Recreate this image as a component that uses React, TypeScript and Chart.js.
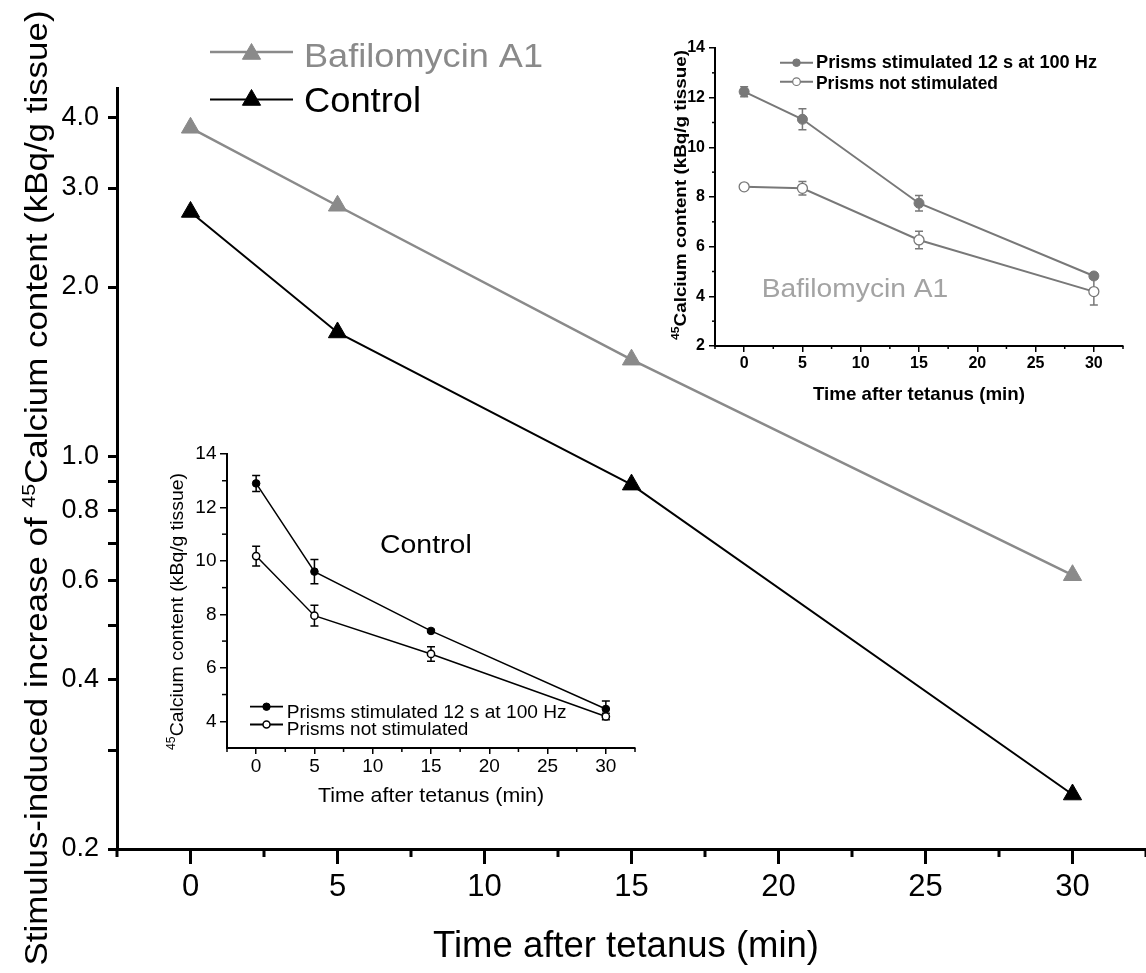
import React, { useEffect, useRef } from 'react';
import { Chart, registerables } from 'chart.js';

Chart.register(...registerables);

const FONT = "'Liberation Sans', Arial, Helvetica, sans-serif";
Chart.defaults.font.family = FONT;

const W = 1146;
const H = 973;

// ---------- data ----------
const timePoints = [0, 5, 15, 30];
const mainSeriesLabels = ['Bafilomycin A1', 'Control'];
const bafilomycinIncrease = [3.84, 2.79, 1.485, 0.614];
const controlIncrease = [2.72, 1.66, 0.89, 0.25];
const mainYTickValues = [0.2, 0.3, 0.4, 0.5, 0.6, 0.7, 0.8, 0.9, 1, 2, 3, 4];
const mainYTickLabels = ['0.2', '', '0.4', '', '0.6', '', '0.8', '', '1.0', '2.0', '3.0', '4.0'];
const timeMajorTicks = [0, 5, 10, 15, 20, 25, 30];
const timeMinorTicks = [-2.5, 2.5, 7.5, 12.5, 17.5, 22.5, 27.5, 32.5];

const insetSeriesLabels = ['Prisms stimulated 12 s at 100 Hz', 'Prisms not stimulated'];

const bafStimulated = [12.24, 11.13, 7.75, 4.82];
const bafStimulatedErr = [0.2, 0.42, 0.31, 0.12];
const bafNotStimulated = [8.41, 8.35, 6.27, 4.19];
const bafNotStimulatedErr = [0.1, 0.27, 0.35, 0.54];
const bafYMajorTicks = [2, 4, 6, 8, 10, 12, 14];
const bafYMinorTicks = [3, 5, 7, 9, 11, 13];

const ctlStimulated = [12.9, 9.6, 7.38, 4.46];
const ctlStimulatedErr = [0.3, 0.45, 0.05, 0.3];
const ctlNotStimulated = [10.18, 7.95, 6.52, 4.18];
const ctlNotStimulatedErr = [0.37, 0.39, 0.27, 0.12];
const ctlYMajorTicks = [4, 6, 8, 10, 12, 14];
const ctlYMinorTicks = [5, 7, 9, 11, 13];

// ---------- styles ----------
const MAIN_GRAY = '#8a8a8a';
const INSET_GRAY = '#787878';
const LABEL_GRAY = '#a3a3a3';

type Part = { t: string; sup?: boolean };
type TextSpec = {
  parts: Part[]; x: number; y: number; size: number; bold?: boolean; color?: string;
  align?: 'left' | 'center'; rotate?: boolean; width?: number;
};
type KeySpec = {
  x1: number; x2: number; y: number; my: number; color: string; lineWidth: number;
  marker: 'triangle' | 'circle'; r: number; filled: boolean; mlw: number;
};

function drawText(ctx: CanvasRenderingContext2D, s: TextSpec) {
  const fontOf = (p: Part) =>
    `${s.bold ? 'bold ' : ''}${p.sup ? Math.round(s.size * 0.62) : s.size}px ${FONT}`;
  ctx.save();
  ctx.translate(s.x, s.y);
  if (s.rotate) ctx.rotate(-Math.PI / 2);
  const widths = s.parts.map((p) => {
    ctx.font = fontOf(p);
    return ctx.measureText(p.t).width;
  });
  const total = widths.reduce((a, b) => a + b, 0);
  if (s.width) ctx.scale(s.width / total, 1);
  let cx = s.align === 'center' ? -total / 2 : 0;
  ctx.fillStyle = s.color || '#000';
  ctx.textAlign = 'left';
  ctx.textBaseline = 'alphabetic';
  s.parts.forEach((p, i) => {
    ctx.font = fontOf(p);
    ctx.fillText(p.t, cx, p.sup ? -s.size * 0.4 : 0);
    cx += widths[i];
  });
  ctx.restore();
}

function drawMarker(ctx: CanvasRenderingContext2D, style: string, x: number, y: number, r: number,
  fill: string, stroke: string, lw: number) {
  ctx.beginPath();
  if (style === 'triangle') {
    for (let k = 0; k < 3; k++) {
      const a = (k * 2 * Math.PI) / 3;
      const px = x + Math.sin(a) * r;
      const py = y - Math.cos(a) * r;
      if (k) ctx.lineTo(px, py); else ctx.moveTo(px, py);
    }
    ctx.closePath();
  } else {
    ctx.arc(x, y, r, 0, Math.PI * 2);
  }
  ctx.fillStyle = fill;
  ctx.fill();
  ctx.lineWidth = lw;
  ctx.strokeStyle = stroke;
  ctx.stroke();
}

function overlayPlugin(texts: TextSpec[], keys: KeySpec[]) {
  return {
    id: 'overlayTexts',
    afterDraw(chart: any) {
      const ctx: CanvasRenderingContext2D = chart.ctx;
      keys.forEach((k) => {
        ctx.save();
        ctx.strokeStyle = k.color;
        ctx.lineWidth = k.lineWidth;
        ctx.beginPath();
        ctx.moveTo(k.x1, k.y);
        ctx.lineTo(k.x2, k.y);
        ctx.stroke();
        drawMarker(ctx, k.marker, (k.x1 + k.x2) / 2, k.my, k.r, k.filled ? k.color : '#fff', k.color, k.mlw);
        ctx.restore();
      });
      texts.forEach((t) => drawText(ctx, t));
    },
  };
}

const minorTickPlugin = {
  id: 'minorTicks',
  afterDraw(chart: any, _args: any, opts: any) {
    const ctx: CanvasRenderingContext2D = chart.ctx;
    const xs = chart.scales.x;
    const ys = chart.scales.y;
    ctx.save();
    ctx.strokeStyle = '#000';
    ctx.lineWidth = opts.width || 1;
    (opts.x || []).forEach((v: number) => {
      const px = xs.getPixelForValue(v);
      ctx.beginPath();
      ctx.moveTo(px, xs.top);
      ctx.lineTo(px, xs.top + opts.xLen);
      ctx.stroke();
    });
    (opts.y || []).forEach((v: number) => {
      const py = ys.getPixelForValue(v);
      ctx.beginPath();
      ctx.moveTo(ys.right, py);
      ctx.lineTo(ys.right - opts.yLen, py);
      ctx.stroke();
    });
    ctx.restore();
  },
};

const errorBarPlugin = {
  id: 'errorBars',
  beforeDatasetsDraw(chart: any, _args: any, opts: any) {
    const ctx: CanvasRenderingContext2D = chart.ctx;
    const ys = chart.scales.y;
    chart.data.datasets.forEach((ds: any, i: number) => {
      if (!ds.errorBars) return;
      const meta = chart.getDatasetMeta(i);
      ctx.save();
      ctx.strokeStyle = ds.borderColor;
      ctx.lineWidth = opts.lineWidth || 1.5;
      meta.data.forEach((pt: any, j: number) => {
        const v = ds.data[j].y;
        const e = ds.errorBars[j];
        const top = ys.getPixelForValue(v + e);
        const bot = ys.getPixelForValue(v - e);
        const cw = (opts.capWidth || 8) / 2;
        ctx.beginPath();
        ctx.moveTo(pt.x, top);
        ctx.lineTo(pt.x, bot);
        ctx.moveTo(pt.x - cw, top);
        ctx.lineTo(pt.x + cw, top);
        ctx.moveTo(pt.x - cw, bot);
        ctx.lineTo(pt.x + cw, bot);
        ctx.stroke();
      });
      ctx.restore();
    });
  },
};

function series(label: string, values: number[], errs: number[] | null, color: string, filled: boolean,
  radius: number, lineWidth: number, style: string, mlw: number) {
  return {
    label,
    data: timePoints.map((t, i) => ({ x: t, y: values[i] })),
    errorBars: errs,
    borderColor: color,
    backgroundColor: color,
    borderWidth: lineWidth,
    pointStyle: style,
    pointRadius: radius,
    pointBackgroundColor: filled ? color : '#ffffff',
    pointBorderColor: color,
    pointBorderWidth: mlw,
    tension: 0,
    fill: false,
    showLine: true,
    clip: false,
  };
}

function axisX(area: { height: number }, tickLen: number, width: number, borderW: number,
  fontSize: number, bold: boolean, padding: number) {
  return {
    type: 'linear',
    min: -2.5,
    max: 32.5,
    afterFit: (s: any) => {
      s.height = area.height;
      s.paddingLeft = 0;
      s.paddingRight = 0;
    },
    afterBuildTicks: (s: any) => { s.ticks = timeMajorTicks.map((v) => ({ value: v })); },
    grid: {
      display: true, drawOnChartArea: false, drawTicks: true, tickLength: tickLen,
      lineWidth: width, tickWidth: width, color: '#000', tickColor: '#000',
    },
    border: { display: true, color: '#000', width: borderW },
    ticks: {
      color: '#000', autoSkip: false, maxRotation: 0, padding,
      font: { size: fontSize, weight: bold ? 'bold' : 'normal' },
      callback: (v: any) => String(v),
    },
  };
}

function insetAxisY(width: number, min: number, max: number, major: number[], tickLen: number,
  fontSize: number, bold: boolean, padding: number, borderW: number) {
  return {
    type: 'linear',
    min,
    max,
    afterFit: (s: any) => {
      s.width = width;
      s.paddingTop = 0;
      s.paddingBottom = 0;
    },
    afterBuildTicks: (s: any) => { s.ticks = major.map((v) => ({ value: v })); },
    grid: {
      display: true, drawOnChartArea: false, drawTicks: true, tickLength: tickLen,
      lineWidth: 1.5, tickWidth: 1.5, color: '#000', tickColor: '#000',
    },
    border: { display: true, color: '#000', width: borderW },
    ticks: {
      color: '#000', autoSkip: false, padding,
      font: { size: fontSize, weight: bold ? 'bold' : 'normal' },
      callback: (v: any) => String(v),
    },
  };
}

function mainConfig(): any {
  const texts: TextSpec[] = [
    {
      parts: [{ t: 'Stimulus-induced increase of ' }, { t: '45', sup: true }, { t: 'Calcium content (kBq/g tissue)' }],
      x: 47, y: 488, size: 31, rotate: true, width: 955, align: 'center',
    },
    { parts: [{ t: 'Time after tetanus (min)' }], x: 626, y: 957, size: 36, width: 386, align: 'center' },
    { parts: [{ t: mainSeriesLabels[0] }], x: 304, y: 66.7, size: 34, width: 239, color: MAIN_GRAY },
    { parts: [{ t: mainSeriesLabels[1] }], x: 304, y: 111.7, size: 35, width: 117, color: '#000' },
  ];
  const keys: KeySpec[] = [
    { x1: 210, x2: 293, y: 52, my: 54, color: MAIN_GRAY, lineWidth: 2.5, marker: 'triangle', r: 10.5, filled: true, mlw: 1 },
    { x1: 210, x2: 293, y: 99.5, my: 100, color: '#000', lineWidth: 2, marker: 'triangle', r: 10.5, filled: true, mlw: 1 },
  ];
  return {
    type: 'line',
    data: {
      datasets: [
        series(mainSeriesLabels[0], bafilomycinIncrease, null, MAIN_GRAY, true, 10.5, 2.5, 'triangle', 1),
        series(mainSeriesLabels[1], controlIncrease, null, '#000', true, 10.5, 2, 'triangle', 1),
      ],
    },
    options: {
      responsive: false,
      animation: false,
      events: [],
      layout: { autoPadding: false, padding: { top: 88, left: 0, right: 0, bottom: 0 } },
      plugins: {
        legend: { display: false },
        tooltip: { enabled: false },
        minorTicks: { x: timeMinorTicks, xLen: 8, y: [], yLen: 0, width: 3 },
      },
      scales: {
        x: axisX({ height: H - 849 }, 15, 3, 3, 31, false, 5),
        y: {
          type: 'logarithmic',
          min: 0.2,
          max: 4.52,
          afterFit: (s: any) => {
            s.width = 117;
            s.paddingTop = 0;
            s.paddingBottom = 0;
          },
          afterBuildTicks: (s: any) => { s.ticks = mainYTickValues.map((v) => ({ value: v })); },
          grid: {
            display: true, drawOnChartArea: false, drawTicks: true, tickLength: 9,
            lineWidth: 3, tickWidth: 3, color: '#000', tickColor: '#000',
          },
          border: { display: true, color: '#000', width: 3 },
          ticks: {
            color: '#000', autoSkip: false, padding: 9, font: { size: 27 },
            callback: (v: any) => {
              const i = mainYTickValues.indexOf(v);
              return i >= 0 ? mainYTickLabels[i] : '';
            },
          },
        },
      },
    },
    plugins: [minorTickPlugin, overlayPlugin(texts, keys)],
  };
}

function bafConfig(): any {
  const texts: TextSpec[] = [
    {
      parts: [{ t: '45', sup: true }, { t: 'Calcium content (kBq/g tissue)' }],
      x: 686, y: 195, size: 17, bold: true, rotate: true, width: 290, align: 'center',
    },
    { parts: [{ t: 'Time after tetanus (min)' }], x: 919, y: 400, size: 18.5, bold: true, width: 212, align: 'center' },
    { parts: [{ t: 'Bafilomycin A1' }], x: 761.7, y: 296.7, size: 26, width: 186.6, color: LABEL_GRAY },
    { parts: [{ t: insetSeriesLabels[0] }], x: 816, y: 68.3, size: 18, bold: true, width: 281 },
    { parts: [{ t: insetSeriesLabels[1] }], x: 816, y: 89, size: 18, bold: true, width: 182 },
  ];
  const keys: KeySpec[] = [
    { x1: 780, x2: 813, y: 62.7, my: 62.7, color: INSET_GRAY, lineWidth: 2, marker: 'circle', r: 3.8, filled: true, mlw: 1 },
    { x1: 780, x2: 813, y: 81.7, my: 81.7, color: INSET_GRAY, lineWidth: 2, marker: 'circle', r: 3.8, filled: false, mlw: 1.2 },
  ];
  return {
    type: 'line',
    data: {
      datasets: [
        series(insetSeriesLabels[0], bafStimulated, bafStimulatedErr, INSET_GRAY, true, 5, 2, 'circle', 1),
        series(insetSeriesLabels[1], bafNotStimulated, bafNotStimulatedErr, INSET_GRAY, false, 5, 2, 'circle', 1.3),
      ],
    },
    options: {
      responsive: false,
      animation: false,
      events: [],
      layout: { autoPadding: false, padding: { top: 48, left: 0, right: W - 1123, bottom: 0 } },
      plugins: {
        legend: { display: false },
        tooltip: { enabled: false },
        minorTicks: { x: timeMinorTicks, xLen: 3, y: bafYMinorTicks, yLen: 3, width: 1.5 },
        errorBars: { capWidth: 8, lineWidth: 1.5 },
      },
      scales: {
        x: axisX({ height: H - 346 }, 6, 1.5, 2, 16, true, 2),
        y: insetAxisY(715, 2, 14, bafYMajorTicks, 6, 16, true, 4, 2),
      },
    },
    plugins: [minorTickPlugin, errorBarPlugin, overlayPlugin(texts, keys)],
  };
}

function ctlConfig(): any {
  const texts: TextSpec[] = [
    {
      parts: [{ t: '45', sup: true }, { t: 'Calcium content (kBq/g tissue)' }],
      x: 183, y: 611.5, size: 19, rotate: true, width: 277, align: 'center',
    },
    { parts: [{ t: 'Time after tetanus (min)' }], x: 431, y: 801.7, size: 21, width: 226, align: 'center' },
    { parts: [{ t: 'Control' }], x: 380, y: 553.3, size: 26, width: 91.7 },
    { parts: [{ t: insetSeriesLabels[0] }], x: 286.7, y: 718.3, size: 19, width: 280 },
    { parts: [{ t: insetSeriesLabels[1] }], x: 286.7, y: 735, size: 19, width: 181.7 },
  ];
  const keys: KeySpec[] = [
    { x1: 250, x2: 283, y: 706.7, my: 706.7, color: '#000', lineWidth: 1.8, marker: 'circle', r: 3.7, filled: true, mlw: 1 },
    { x1: 250, x2: 283, y: 724.5, my: 724.5, color: '#000', lineWidth: 1.8, marker: 'circle', r: 3.5, filled: false, mlw: 1.5 },
  ];
  return {
    type: 'line',
    data: {
      datasets: [
        series(insetSeriesLabels[0], ctlStimulated, ctlStimulatedErr, '#000', true, 3.8, 1.5, 'circle', 1),
        series(insetSeriesLabels[1], ctlNotStimulated, ctlNotStimulatedErr, '#000', false, 3.6, 1.5, 'circle', 1.5),
      ],
    },
    options: {
      responsive: false,
      animation: false,
      events: [],
      layout: { autoPadding: false, padding: { top: 454, left: 0, right: W - 635, bottom: 0 } },
      plugins: {
        legend: { display: false },
        tooltip: { enabled: false },
        minorTicks: { x: timeMinorTicks, xLen: 4, y: ctlYMinorTicks, yLen: 5, width: 1.5 },
        errorBars: { capWidth: 8, lineWidth: 1.5 },
      },
      scales: {
        x: axisX({ height: H - 748 }, 6, 1.5, 2, 19, false, 1),
        y: insetAxisY(227, 3, 14, ctlYMajorTicks, 7, 19, false, 3.5, 2),
      },
    },
    plugins: [minorTickPlugin, errorBarPlugin, overlayPlugin(texts, keys)],
  };
}

export default function App() {
  const mainRef = useRef<HTMLCanvasElement>(null);
  const ctlRef = useRef<HTMLCanvasElement>(null);
  const bafRef = useRef<HTMLCanvasElement>(null);

  useEffect(() => {
    document.body.style.margin = '0';
    const charts = [
      new Chart(mainRef.current as HTMLCanvasElement, mainConfig()),
      new Chart(ctlRef.current as HTMLCanvasElement, ctlConfig()),
      new Chart(bafRef.current as HTMLCanvasElement, bafConfig()),
    ];
    return () => charts.forEach((c) => c.destroy());
  }, []);

  const cs: React.CSSProperties = { position: 'absolute', left: 0, top: 0, width: W, height: H, display: 'block' };
  return (
    <div style={{ position: 'absolute', left: 0, top: 0, width: W, height: H, overflow: 'hidden', background: '#fff' }}>
      <canvas ref={mainRef} width={W} height={H} style={cs} />
      <canvas ref={ctlRef} width={W} height={H} style={cs} />
      <canvas ref={bafRef} width={W} height={H} style={cs} />
    </div>
  );
}
